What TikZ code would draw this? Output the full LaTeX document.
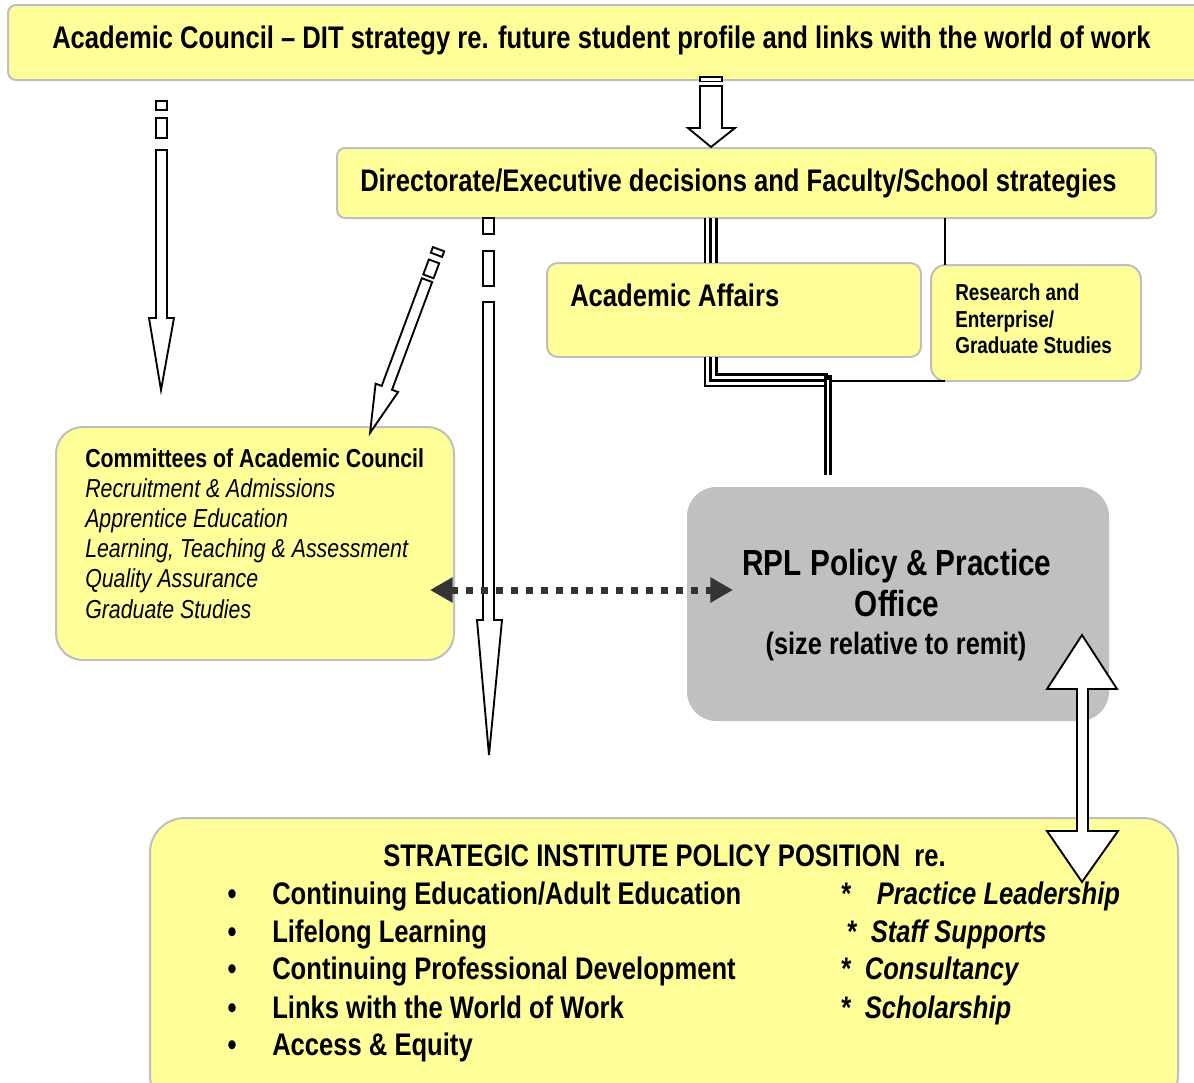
\documentclass[tikz,border=0pt]{standalone}
\usepackage{fontspec}
\setmainfont[FakeStretch=0.82]{Liberation Sans}
\usetikzlibrary{fit,arrows.meta}
\definecolor{boxyellow}{HTML}{FFFF99}
\definecolor{boxedge}{HTML}{BFBFBF}
\definecolor{rplgray}{HTML}{C0C0C0}
\definecolor{dotgray}{HTML}{333333}
\begin{document}
\begin{tikzpicture}[x=0.75pt,y=-0.75pt,
  ybox/.style={draw=boxedge, line width=1.5pt, fill=boxyellow, inner sep=0pt, outer sep=0pt},
  gbox/.style={fill=rplgray, inner sep=0pt, outer sep=0pt},
  blockarrow/.style={draw=black, fill=white, line width=1.4pt, line join=miter},
  bigtxt/.style={inner sep=0pt, anchor=base west, font=\fontsize{23.4}{28}\selectfont\bfseries},
  midtxt/.style={inner sep=0pt, anchor=base west, font=\fontsize{19.5}{24}\selectfont\bfseries},
  itltxt/.style={inner sep=0pt, anchor=base west, font=\fontsize{19.5}{24}\selectfont\itshape},
  smltxt/.style={inner sep=0pt, anchor=base west, font=\fontsize{17.3}{21}\selectfont\bfseries},
  rpltxt/.style={inner sep=0pt, anchor=base, font=\fontsize{27.2}{31}\selectfont\bfseries},
  bititxt/.style={inner sep=0pt, anchor=base west, font=\fontsize{23.4}{28}\selectfont\bfseries\itshape},
  dotarrow/.style={draw=dotgray, line width=5.25pt, dash pattern=on 5.25pt off 6pt,
     {Triangle[length=17pt,width=18pt]}-{Triangle[length=17pt,width=18pt]}},
]
\useasboundingbox (0,0) rectangle (1194,1082);
\clip (0,0) rectangle (1194,1082);

% ---------- boxes ----------
\node[ybox, rounded corners=6pt, fit={(8,5)(1215,80)}] (top) {};
\node[ybox, rounded corners=6pt, fit={(337,148)(1156,218)}] (dir) {};
\node[ybox, rounded corners=8pt, fit={(547,263)(921,357)}] (aa) {};
\node[ybox, rounded corners=11pt, fit={(931,265)(1141,381)}] (rs) {};
\node[ybox, rounded corners=20pt, fit={(56,427)(454,660)}] (comm) {};
\node[gbox, rounded corners=22pt, fit={(687,487)(1109,721)}] (rpl) {};
\node[ybox, rounded corners=26pt, fit={(150,818)(1178,1110)}] (pol) {};

% ---------- texts ----------
\node[bigtxt] (ttl) at (52,48) {Academic Council – DIT strategy re. future student profile and links with the world of work};
\node[bigtxt] (dirt) at (360,191) {Directorate/Executive decisions and Faculty/School strategies};
\node[bigtxt] (aat) at (570,306) {Academic Affairs};
\node[smltxt] (rs1) at (955,300) {Research and};
\node[smltxt] (rs2) at (955,327) {Enterprise/};
\node[smltxt] (rs3) at (955,353) {Graduate Studies};

\node[midtxt] (cm0) at (85,467) {Committees of Academic Council};
\node[itltxt] (cm1) at (85,497) {Recruitment \& Admissions};
\node[itltxt] (cm2) at (85,527) {Apprentice Education};
\node[itltxt] (cm3) at (85,557) {Learning, Teaching \& Assessment};
\node[itltxt] (cm4) at (85,587) {Quality Assurance};
\node[itltxt] (cm5) at (85,618) {Graduate Studies};

\node[rpltxt] (rp1) at (897,575) {RPL Policy \& Practice};
\node[rpltxt] (rp2) at (897,616) {Office};
\node[rpltxt, font=\fontsize{23.2}{28}\selectfont\bfseries] (rp3) at (896,654) {(size relative to remit)};

\node[bigtxt] (pt0) at (383,866) {STRATEGIC INSTITUTE POLICY POSITION\ \ re.};
\foreach \y/\t [count=\i] in {904/{Continuing Education/Adult Education},
    942/{Lifelong Learning},
    979/{Continuing Professional Development},
    1018/{Links with the World of Work},
    1055/{Access \& Equity}}{
  \node[bigtxt, anchor=base] (bul\i) at (232,\y) {•};
  \node[bigtxt] (item\i) at (272,\y) {\t};
}
\node[bititxt] (r1) at (840,904) {*\hspace{20pt}Practice Leadership};
\node[bititxt] (r2) at (846,942) {*\hspace{11pt}Staff Supports};
\node[bititxt] (r3) at (840,979) {*\hspace{11pt}Consultancy};
\node[bititxt] (r4) at (840,1018) {*\hspace{11pt}Scholarship};

% ---------- line connectors ----------
\coordinate (xa) at (710.5,0);
\coordinate (corner) at (710.5,380);
\coordinate (bend) at (828,380);
\coordinate (rplin) at (828,475);
\coordinate (xr) at (945,0);
\coordinate (thinstart) at (831,381);
\coordinate (thinend) at (945,381);
\foreach \w/\c in {10.5pt/black, 6.75pt/white, 2.25pt/black}{
  \draw[line width=\w, \c] (dir.south -| xa) -- (aa.north -| xa);
  \draw[line width=\w, \c, line join=miter] (aa.south -| xa) -- (corner) -- (bend);
}
\draw[line width=6pt, black] ([yshift=3.9pt]bend) -- (rplin);
\draw[line width=1.8pt, white] ([yshift=0pt]bend) -- (rplin);
\draw[line width=0.9pt] (thinstart) -- (thinend);
\draw[line width=0.9pt] (dir.south -| xr) -- (rs.north -| xr);

% ---------- block arrows ----------
% top centre
\draw[blockarrow] (700,77) rectangle (722,81.5);
\draw[blockarrow] (700,86) -- (722,86) -- (722,128) -- (735,128) -- (711,147) -- (688,128) -- (700,128) -- cycle;
% left vertical
\draw[blockarrow] (156,101) rectangle (167,110);
\draw[blockarrow] (156,118) rectangle (167,138);
\draw[blockarrow] (156,150) -- (167,150) -- (167,318) -- (174,318) -- (161,390) -- (149,318) -- (156,318) -- cycle;
% middle long
\draw[blockarrow] (483,218) rectangle (494,234);
\draw[blockarrow] (483,251) rectangle (494,286);
\draw[blockarrow] (483,302) -- (494,302) -- (494,620) -- (502,620) -- (489,755) -- (477,620) -- (483,620) -- cycle;
% diagonal
\begin{scope}[shift={(437.5,252)}, x={(-0.26205pt,-0.70268pt)}, y={(0.70268pt,-0.26205pt)}]
  \draw[blockarrow] (-3,-6) -- (3,-6) -- (3,6) -- (-3,6) -- cycle;
  \draw[blockarrow] (10,-5.5) -- (26,-5.5) -- (26,5.5) -- (10,5.5) -- cycle;
  \draw[blockarrow] (30,-5.5) -- (145,-5.5) -- (145,-12) -- (193,0) -- (145,12) -- (145,5.5) -- (30,5.5) -- cycle;
\end{scope}
% right double
\draw[blockarrow] (1082,635) -- (1117,689) -- (1088,689) -- (1088,831) -- (1118,831) -- (1082,882)
   -- (1047,831) -- (1077,831) -- (1077,689) -- (1047,689) -- cycle;

% ---------- dotted double arrow ----------
\coordinate (dl) at (430,590);
\coordinate (dr) at (733,590);
\draw[dotarrow] (dl) -- (dr);
\end{tikzpicture}
\end{document}
